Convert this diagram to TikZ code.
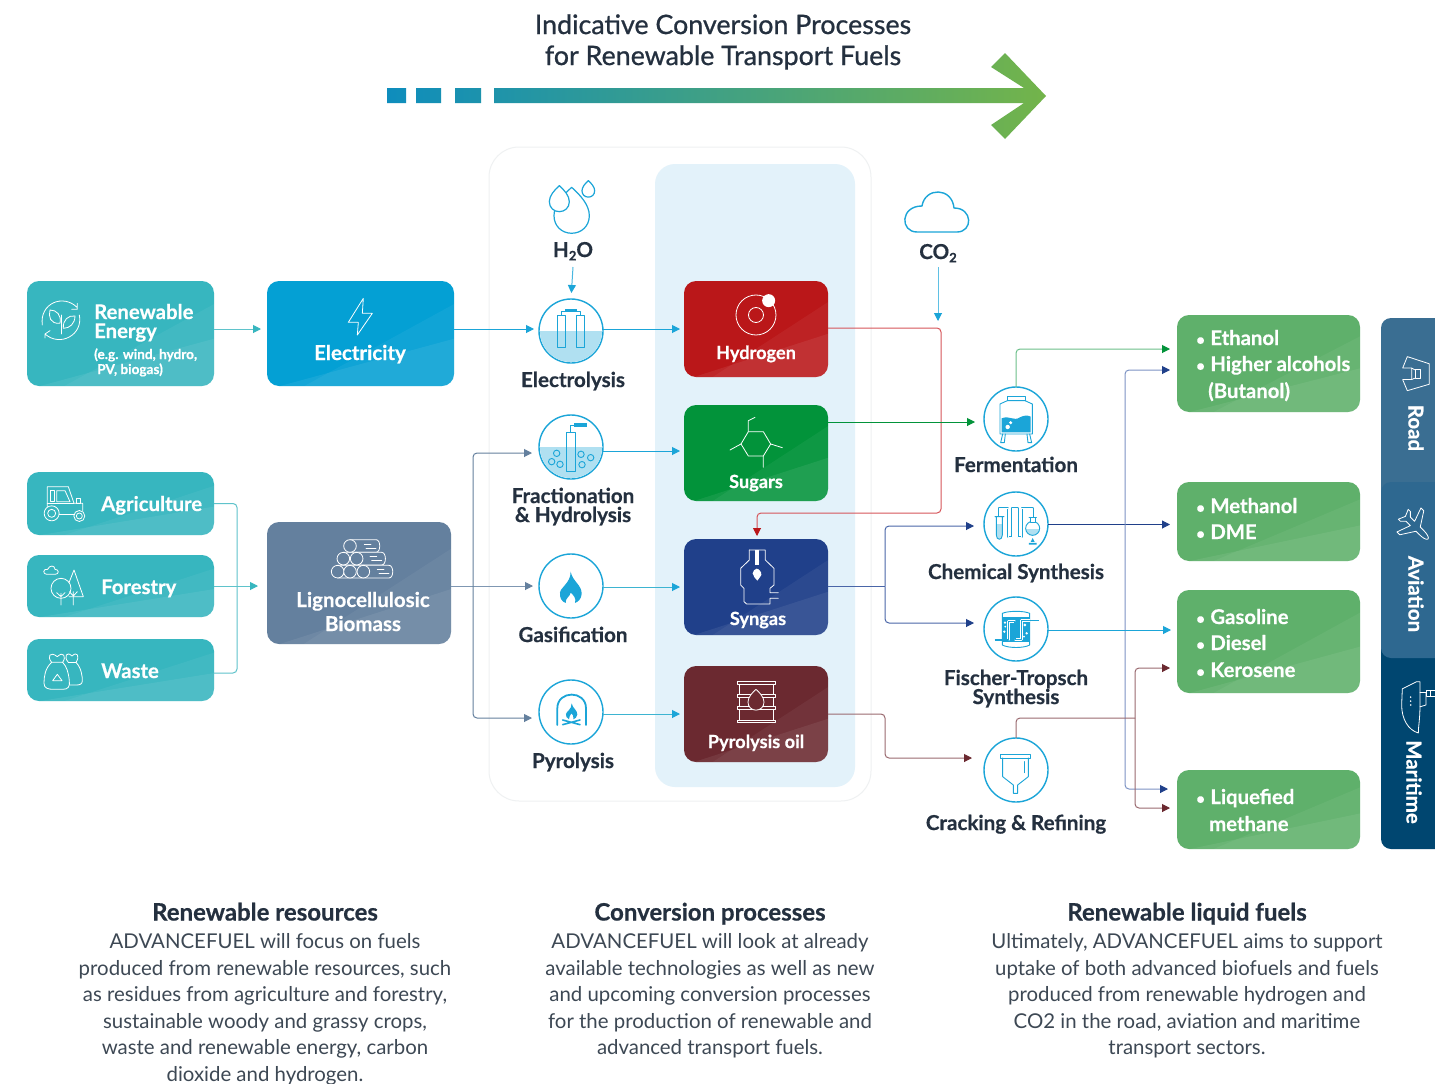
\documentclass[tikz,border=0pt]{standalone}
\usepackage{fontspec}
\setmainfont{Lato}[BoldFeatures={FakeBold=.5}]
\newfontfamily\ttlf{Lato}[UprightFeatures={FakeBold=.8}]
\usetikzlibrary{arrows.meta,calc,shapes.geometric}
\definecolor{teal}{HTML}{37B6BF}
\definecolor{elec}{HTML}{04A0D4}
\definecolor{ligno}{HTML}{64809E}
\definecolor{hyd}{HTML}{BA1719}
\definecolor{sug}{HTML}{02933A}
\definecolor{syn}{HTML}{20408A}
\definecolor{oil}{HTML}{6B2930}
\definecolor{fuel}{HTML}{5FB06B}
\definecolor{inner}{HTML}{E3F2FA}
\definecolor{outerl}{HTML}{EFF1F2}
\definecolor{ink}{HTML}{24303F}
\definecolor{body}{HTML}{3D4854}
\definecolor{cb}{HTML}{1BA5D8}
\definecolor{wat}{HTML}{B0E0F1}
\definecolor{tealL}{HTML}{5FC3CB}
\definecolor{slate}{HTML}{7F97B2}
\definecolor{slateD}{HTML}{64809E}
\definecolor{redL}{HTML}{D6555A}
\definecolor{greenL}{HTML}{6CC08A}
\definecolor{navyL}{HTML}{7D93C4}
\definecolor{navyM}{HTML}{4A66A8}
\definecolor{oilL}{HTML}{9A6A70}
\definecolor{tabmar}{HTML}{004670}
\definecolor{tabroad}{HTML}{3A6E92}
\definecolor{tabavi}{HTML}{2E6890}
\definecolor{arrB}{HTML}{0E8DBD}
\definecolor{arrG}{HTML}{73B44A}
\tikzset{
  x=1pt,y=-1pt,
  box/.style={rectangle,rounded corners=12pt,inner sep=0pt,outer sep=0pt},
  proc/.style={circle,draw=cb,fill=white,line width=1.4pt,minimum size=64pt,inner sep=0pt,outer sep=0pt},
  wlab/.style={text=white,inner sep=0pt,anchor=mid,yshift=-4.5pt,font=\fontsize{18.2}{18.2}\bfseries\selectfont},
  wbig/.style={wlab,font=\fontsize{20.5}{20.5}\bfseries\selectfont},
  wside/.style={text=white,inner sep=0pt,anchor=mid,font=\fontsize{20.5}{20.5}\bfseries\selectfont,rotate=-90},
  wleft/.style={text=white,inner sep=0pt,anchor=mid west,yshift=-4.5pt,font=\fontsize{20.3}{20.3}\bfseries\selectfont},
  wsmall/.style={wleft,yshift=-2pt,font=\fontsize{13.6}{13.6}\bfseries\selectfont},
  plab/.style={text=ink,inner sep=0pt,anchor=mid,yshift=-4.5pt,font=\fontsize{20.6}{20.6}\bfseries\selectfont},
  head/.style={text=ink,inner sep=0pt,anchor=mid,yshift=-5pt,font=\fontsize{24}{24}\bfseries\selectfont},
  ttl/.style={text=ink,inner sep=0pt,anchor=mid,yshift=-6.5pt,font=\fontsize{26.8}{26.8}\ttlf\selectfont},
  para/.style={text=body,inner sep=0pt,align=center,yshift=-2pt,font=\fontsize{20.4}{26.5}\selectfont},
  conn/.style 2 args={draw=#1,line width=1pt,rounded corners=4pt,-{Triangle[length=8pt,width=8pt,color=#2]}},
  line/.style={draw=#1,line width=1pt,rounded corners=4pt},
  ic/.style={draw=white,line width=.8pt,line join=round,line cap=round},
  bl/.style={draw=cb,line width=.9pt,line join=round,line cap=round},
  zm/.style 2 args={x=.33333pt,y=-.33333pt,shift={(#1*3,#2*3)}},
}
\newcommand\bx[6]{%
  \pgfmathsetmacro\bxw{#4-#2}\pgfmathsetmacro\bxh{#5-#3}%
  \pgfmathsetmacro\bxcx{(#2+#4)/2}\pgfmathsetmacro\bxcy{(#3+#5)/2}%
  \node[box,fill=#6,minimum width=\bxw pt,minimum height=\bxh pt] (#1) at (\bxcx,\bxcy) {};
  \begin{scope}
    \clip[rounded corners=12pt] (#1.south west) rectangle (#1.north east);
    \fill[white,opacity=.05] ($(#1.south west)!.2!(#1.south east)$) -- ($(#1.north east)!.22!(#1.south east)$) -- (#1.south east) -- cycle;
    \fill[white,opacity=.07] ($(#1.south west)!.07!(#1.south east)$) -- ($(#1.north east)!.55!(#1.south east)$) -- (#1.south east) -- cycle;
  \end{scope}
}
\newcommand\dropp[5][bl]{% x top r
  \draw[#1,#5] (#2,#3) .. controls ({#2-.5*#4},{#3+.45*#4}) and ({#2-#4},{#3+#4}) .. ({#2-#4},{#3+1.6*#4}) .. controls ({#2-#4},{#3+2.2*#4}) and ({#2-.55*#4},{#3+2.6*#4}) .. (#2,{#3+2.6*#4}) .. controls ({#2+.55*#4},{#3+2.6*#4}) and ({#2+#4},{#3+2.2*#4}) .. ({#2+#4},{#3+1.6*#4}) .. controls ({#2+#4},{#3+#4}) and ({#2+.5*#4},{#3+.45*#4}) .. (#2,#3) -- cycle;
}
\newcommand\subn[1]{\raisebox{-.32ex}{\fontsize{13}{13}\selectfont #1}}
\newcommand\bull{{\fontsize{15}{15}\selectfont•}\hspace{5.5pt}}
\begin{document}
\begin{tikzpicture}
\useasboundingbox (0,0) rectangle (1435,1084);
\fill[white] (0,0) rectangle (1435,1084);

% title and arrow
\node[ttl] (t1) at (723,25) {Indicative Conversion Processes};
\node[ttl] (t2) at (723,56) {for Renewable Transport Fuels};
\shade[left color=arrB,right color=arrG]
  (387,88) rectangle (406,103) (416,88) rectangle (441,103) (455,88) rectangle (481,103)
  (494,88) -- (1024,88) -- (991,67) -- (1005,53) -- (1046,96) -- (1005,139) -- (991,125) -- (1024,103) -- (494,103) -- cycle;

% panels
\node[box,draw=outerl,line width=1pt,rounded corners=30pt,minimum width=382pt,minimum height=654pt] (outerp) at (680,474) {};
\node[box,fill=inner,rounded corners=20pt,minimum width=200pt,minimum height=623pt] (innerp) at (755,475.5) {};

% connector junctions
\coordinate (jL) at (473,586);
\coordinate (jS) at (885,586.5);
\coordinate (jO) at (885,714);
\coordinate (jB) at (1125,524.5);
\coordinate (jC) at (1135,718);

% boxes
\bx{re}{27}{281}{214}{386}{teal}
\bx{elecb}{267}{281}{454}{386}{elec}
\bx{agri}{27}{472}{214}{535}{teal}
\bx{fore}{27}{555}{214}{617}{teal}
\bx{wast}{27}{639}{214}{701}{teal}
\bx{lig}{267}{522}{451}{644}{ligno}
\bx{hydb}{684}{281}{828}{377}{hyd}
\bx{sugb}{684}{405}{828}{501}{sug}
\bx{synb}{684}{539}{828}{635}{syn}
\bx{oilb}{684}{666}{828}{762}{oil}
\bx{eth}{1177}{315}{1360}{412}{fuel}
\bx{meth}{1177}{482}{1360}{561}{fuel}
\bx{gaso}{1177}{590}{1360}{693}{fuel}
\bx{lq}{1177}{770}{1360}{849}{fuel}

% side tabs
\node[box,fill=tabmar,rounded corners=10pt,minimum width=79pt,minimum height=211pt] (mar) at (1420.5,743.5) {};
\node[box,fill=tabroad,rounded corners=10pt,minimum width=79pt,minimum height=182pt] (road) at (1420.5,409) {};
\node[box,fill=tabavi,rounded corners=10pt,minimum width=79pt,minimum height=176pt] (avi) at (1420.5,570) {};

% process circles
\node[proc] (elys) at (571,331) {};
\node[proc] (frac) at (571,447) {};
\node[proc] (gas) at (571,586) {};
\node[proc] (pyr) at (571,712) {};
\node[proc] (ferm) at (1016,419) {};
\node[proc] (chem) at (1016,524) {};
\node[proc] (ft) at (1016,629) {};
\node[proc] (crack) at (1016,770) {};

% water fills
\begin{scope}
  \clip (539,331) rectangle (603,364);
  \fill[wat] (elys.center) circle[radius=31pt];
\end{scope}
\begin{scope}
  \clip (539,447) rectangle (603,480);
  \fill[wat] (frac.center) circle[radius=31pt];
\end{scope}

% labels
\node[plab] (lelys) at (573,380) {Electrolysis};
\node[plab] (lfrac1) at (573,496) {Fractionation};
\node[plab] (lfrac2) at (573,515) {\& Hydrolysis};
\node[plab] (lgas) at (573,635) {Gasification};
\node[plab] (lpyr) at (573,761) {Pyrolysis};
\node[plab] (lferm) at (1016,465) {Fermentation};
\node[plab] (lchem) at (1016,572) {Chemical Synthesis};
\node[plab] (lft1) at (1016,678) {Fischer-Tropsch};
\node[plab] (lft2) at (1016,697) {Synthesis};
\node[plab] (lcrack) at (1016,823) {Cracking \& Refining};
\node[plab] (h2o) at (573,250) {H\subn{2}O};
\node[plab] (co2) at (938,252) {CO\subn{2}};

\node[wleft] (lre1) at (94,312) {Renewable};
\node[wleft] (lre2) at (94,331) {Energy};
\node[wsmall] (lre3) at (94,350) {(e.g. wind, hydro,};
\node[wsmall] (lre4) at (97,365) {PV, biogas)};
\node[wbig] (lelec) at (360,353) {Electricity};
\node[wleft] (lagri) at (101,504) {Agriculture};
\node[wleft] (lfore) at (101,587) {Forestry};
\node[wleft] (lwast) at (101,671) {Waste};
\node[wbig] (llig1) at (363,600) {Lignocellulosic};
\node[wbig] (llig2) at (363,624) {Biomass};
\node[wlab] (lhyd) at (756,352) {Hydrogen};
\node[wlab] (lsug) at (756,481) {Sugars};
\node[wlab] (lsyn) at (758,618) {Syngas};
\node[wlab] (loil) at (756,741) {Pyrolysis oil};

\node[wleft] (f1) at (1196,338) {\bull Ethanol};
\node[wleft] (f2) at (1196,364) {\bull Higher alcohols};
\node[wleft] (f3) at (1208,391) {(Butanol)};
\node[wleft] (f4) at (1196,506) {\bull Methanol};
\node[wleft] (f5) at (1196,532) {\bull DME};
\node[wleft] (f6) at (1196,617) {\bull Gasoline};
\node[wleft] (f7) at (1196,643) {\bull Diesel};
\node[wleft] (f8) at (1196,670) {\bull Kerosene};
\node[wleft] (f9) at (1196,797) {\bull Liquefied};
\node[wleft] (f10) at (1209,824) {methane};

\node[wside] (lroad) at (1411,428) {Road};
\node[wside] (lavi) at (1411,594) {Aviation};
\node[wside] (lmar) at (1409,782) {Maritime};

% connectors
\draw[conn={tealL}{teal},shorten >=6pt] (re.east |- 0,329) -- (elecb.west |- 0,329);
\draw[conn={tealL}{teal},shorten >=9pt] (fore.east) -- (lig.west |- fore.east);
\draw[line=tealL] (agri.east |- 0,503.5) -- (237,503.5) -- (237,673) -- (wast.east |- 0,673);
\draw[conn={cb}{cb},shorten >=5pt] (elecb.east |- 0,329) -- (elys.west |- 0,329);
\draw[conn={cb}{cb},shorten >=4pt] (elys.east |- 0,329) -- (hydb.west |- 0,329);
\draw[conn={cb}{cb},shorten >=4pt] (frac.east |- 0,451) -- (sugb.west |- 0,451);
\draw[conn={tealL!50!cb}{cb},shorten >=4pt] (gas.east |- 0,587) -- (synb.west |- 0,587);
\draw[conn={tealL!50!cb}{cb},shorten >=4pt] (pyr.east |- 0,714) -- (oilb.west |- 0,714);
\draw[conn={cb!80!white}{cb},shorten >=6pt] (h2o |- 0,267) -- (elys.north);
\draw[conn={cb!70!white}{cb}] (co2 |- 0,267) -- (938,321);
\draw[conn={slate}{slateD},shorten >=6pt] (lig.east |- jL) -- (gas.west |- jL);
\draw[conn={slateD}{slateD},shorten >=7pt] (jL) |- (frac.west |- 0,453);
\draw[conn={slateD}{slateD},shorten >=7pt] (jL) |- (pyr.west |- 0,718);
\draw[conn={redL}{hyd},shorten >=3pt] (hydb.east |- 0,328) -- (941,328) -- (941,513) -- (757,513) -- (757,539);
\draw[conn={sug}{sug},shorten >=9pt] (sugb.east |- 0,422) -- (ferm.west |- 0,422);
\draw[line=navyM] (synb.east |- jS) -- (jS);
\draw[conn={navyM}{syn},shorten >=10pt] (jS) |- (chem.west |- 0,526);
\draw[conn={navyM}{syn},shorten >=10pt] (jS) |- (ft.west |- 0,623);
\draw[conn={oilL}{oil},shorten >=12pt] (oilb.east |- jO) -- (jO) -- (885,758) -- (crack.west |- 0,758);
\draw[conn={greenL}{sug},shorten >=7pt] (ferm.north) -- (1016,349) -- (eth.west |- 0,349);
\draw[conn={syn}{syn},shorten >=7pt] (chem.east |- jB) -- (meth.west |- jB);
\draw[conn={navyL}{syn},shorten >=7pt] (jB) |- (eth.west |- 0,370);
\draw[conn={navyL}{syn},shorten >=9pt] (jB) |- (lq.west |- 0,789);
\draw[conn={cb}{cb},shorten >=6pt] (ft.east |- 0,630) -- (gaso.west |- 0,630);
\draw[line=oilL] (crack.north) -- (1016,718) -- (jC);
\draw[conn={oilL}{oil},shorten >=7pt] (jC) |- (gaso.west |- 0,668);
\draw[conn={oilL}{oil},shorten >=7pt] (jC) |- (lq.west |- 0,808);

% CO2 cloud
\draw[draw=cb,line width=1.4pt,line join=round] (917,232) -- (957,232) .. controls (973,232) and (973,208) .. (954,208) .. controls (952,187) and (925,187) .. (922,206) .. controls (900,206) and (900,232) .. (917,232) -- cycle;

% ---------- icons, zoom 1 coordinates
\begin{scope}[zm={0}{260}]
  % renewable
  \draw[ic] (127,195) .. controls (118,130) and (190,100) .. (232,143) (232,130) -- (232,148) -- (215,148);
  \draw[ic] (238,165) .. controls (250,225) and (180,262) .. (135,222) (150,212) -- (135,222) -- (135,234);
  \draw[ic] (183,222) -- (183,165);
  \draw[ic] (180,190) .. controls (150,192) and (145,170) .. (150,150) .. controls (170,150) and (185,165) .. (180,190);
  \draw[ic] (190,205) .. controls (188,180) and (205,165) .. (225,168) .. controls (225,190) and (210,205) .. (190,205);
  % lightning
  \draw[ic] (1090,115) -- (1045,187) -- (1075,187) -- (1072,225) -- (1117,160) -- (1087,160) -- cycle;
  % tractor
  \draw[ic] (142,740) -- (142,680) -- (205,680) -- (222,730) -- (248,730) -- (248,752);
  \draw[ic] (152,690) rectangle (164,725);
  \draw[ic] (170,692) -- (195,692) -- (210,725) -- (170,725) -- cycle;
  \draw[ic] (142,730) -- (222,730);
  \draw[ic] (155,760) circle[radius=7.5pt] (155,760) circle[radius=4pt];
  \draw[ic] (238,768) circle[radius=5.5pt] (238,768) circle[radius=3pt];
  \draw[ic] (178,762) -- (222,762);
  \draw[ic] (230,715) rectangle (242,730);
  % forestry
  \draw[ic] (140,943) .. controls (128,943) and (128,925) .. (143,928) .. controls (148,915) and (165,915) .. (165,928) .. controls (178,928) and (178,943) .. (165,943) -- cycle;
  \draw[ic] (183,985) circle[radius=10pt];
  \draw[ic] (183,1035) -- (183,1000) (170,998) -- (183,1010) -- (195,998);
  \draw[ic] (207,968) -- (222,930) -- (250,1010) -- (207,1010);
  \draw[ic] (220,1035) -- (220,995) (208,995) -- (220,1008) -- (232,995);
  % waste
  \draw[ic] (155,1207) .. controls (135,1225) and (132,1250) .. (132,1270) .. controls (132,1285) and (145,1288) .. (160,1288) -- (188,1288) .. controls (205,1288) and (210,1280) .. (208,1262) .. controls (205,1235) and (200,1220) .. (188,1207) -- cycle;
  \draw[ic] (155,1207) .. controls (140,1190) and (150,1172) .. (172,1190) .. controls (190,1172) and (200,1190) .. (188,1207);
  \draw[ic] (205,1207) .. controls (190,1190) and (200,1172) .. (216,1188) .. controls (232,1172) and (240,1190) .. (228,1207) .. controls (245,1225) and (247,1250) .. (247,1262) .. controls (247,1272) and (240,1275) .. (230,1275) -- (209,1275);
  \draw[ic] (205,1207) -- (228,1207);
  \draw[ic] (158,1262) -- (172,1243) -- (186,1262) -- cycle;
  % logs
  \foreach \cx/\cy/\e in {1050/858/1143, 1030/896/1160, 1013/935/1182}{
    \draw[ic,fill=ligno] (\cx,\cy-19) -- (\e-15,\cy-19) .. controls (\e,\cy-19) and (\e,\cy+19) .. (\e-15,\cy+19) -- (\cx,\cy+19);
    \draw[ic] (\e-50,\cy-6) -- (\e-30,\cy-6) (\e-45,\cy+6) -- (\e-15,\cy+6);
  }
  \foreach \cx/\cy in {1050/858, 1030/896, 1070/896, 1013/935, 1050/935, 1090/935}{
    \draw[ic,fill=ligno] (\cx,\cy) circle[radius=6.3pt];
  }
\end{scope}

% ---------- zoom 2 coordinates
\begin{scope}[zm={480}{150}]
  % droplets
  \dropp{275}{112}{53}{fill=white,line width=1.2pt}
  \dropp{238}{107}{30}{fill=white,line width=1.2pt}
  \dropp{325}{92}{19}{fill=white,line width=1.2pt}
  % electrolysis
  \draw[bl] (233,495) rectangle (257,592);
  \draw[bl] (290,495) rectangle (314,592);
  \draw[bl] (245,495) -- (245,484) -- (302,484) -- (302,495);
  \fill[cb] (255,478) rectangle (292,485);
  % fractionation
  \draw[bl] (259,847) rectangle (287,963);
  \draw[bl] (270,847) -- (270,827) -- (281,827);
  \fill[cb] (281,820) rectangle (322,830);
  \foreach \a/\b in {230/910,215/935,240/943,303/913,332/923,306/944}{
    \draw[bl] (\a,\b) circle[radius=3.2pt];
  }
  % hydrogen
  \draw[ic] (828,495) circle[radius=20pt];
  \draw[ic] (828,495) circle[radius=7.5pt];
  \fill[white] (866,452) circle[radius=6.5pt];
  % sugars
  \draw[ic] (805,845) -- (850,845) -- (872,882) -- (850,918) -- (805,918) -- (783,882) -- cycle;
  \draw[ic] (805,845) -- (805,812) -- (825,802) (872,882) -- (907,893) (783,882) -- (750,900) (850,918) -- (850,952);
\end{scope}

% ---------- zoom 3 coordinates
\begin{scope}[zm={480}{490}]
  % flame
  \fill[cb] (272,245) .. controls (278,275) and (306,285) .. (305,312) .. controls (304,328) and (293,336) .. (285,339) .. controls (290,325) and (280,315) .. (272,308) .. controls (270,320) and (255,325) .. (257,339) .. controls (245,335) and (238,322) .. (240,308) .. controls (242,295) and (250,295) .. (255,285) .. controls (263,275) and (272,265) .. (272,245) -- cycle;
  % pyrolysis
  \draw[bl,line width=1.8pt] (232,705) -- (232,655) .. controls (232,600) and (318,600) .. (318,655) -- (318,705);
  \fill[cb] (275,640) .. controls (278,655) and (292,660) .. (292,673) .. controls (292,682) and (285,686) .. (280,688) .. controls (283,680) and (278,673) .. (274,670) .. controls (272,678) and (265,680) .. (267,688) .. controls (260,685) and (257,678) .. (258,672) .. controls (260,662) and (275,660) .. (275,640) -- cycle;
  \draw[bl,line width=1.6pt] (248,690) -- (300,704) (248,704) -- (300,690);
  % syngas
  \draw[ic] (808,180) -- (808,210) -- (782,235) -- (782,285) -- (792,295) -- (792,335) -- (800,342) -- (870,342) -- (870,325) -- (895,325);
  \draw[ic] (895,308) -- (870,308) -- (870,295) -- (882,285) -- (882,235) -- (856,210) -- (856,180) -- (808,180);
  \fill[white] (825,180) rectangle (838,225);
  \fill[white] (830,236) .. controls (835,236) and (846,245) .. (844,255) .. controls (842,262) and (835,265) .. (832,272) .. controls (828,265) and (818,260) .. (818,250) .. controls (818,242) and (825,238) .. (830,236) -- cycle;
  % barrel
  \draw[ic] (771,575) rectangle (887,583) (771,612) rectangle (887,622) (771,650) rectangle (887,658) (771,690) rectangle (887,697);
  \draw[ic] (778,583) -- (778,612) (778,622) -- (778,650) (778,658) -- (778,690) (880,583) -- (880,612) (880,622) -- (880,650) (880,658) -- (880,690);
  \dropp[ic]{828}{598}{24}{fill=oil}
\end{scope}

% ---------- zoom 4 coordinates
\begin{scope}[zm={880}{300}]
  % fermentation
  \draw[bl] (360,312) -- (382,302) -- (435,302) -- (457,312) -- (457,402) -- (360,402) -- cycle;
  \draw[bl] (382,302) -- (382,290) -- (435,290) -- (435,302);
  \fill[cb] (365,355) .. controls (390,345) and (400,365) .. (420,352) .. controls (430,346) and (445,345) .. (452,350) -- (452,397) -- (365,397) -- cycle;
  \draw[bl] (368,402) -- (362,428) -- (373,428) -- (376,402) (449,402) -- (455,428) -- (444,428) -- (441,402);
  \fill[white] (392,368) circle[radius=1.7pt] (383,381) circle[radius=2.2pt];
  % chemical
  \draw[cb,line width=2.2pt,line join=round] (358,650) -- (358,625) -- (385,625) -- (385,712) -- (397,712) -- (397,625) -- (413,625) -- (413,712) -- (425,712) -- (425,625) -- (458,625) -- (458,650);
  \draw[white,line width=.8pt,line join=round] (358,650) -- (358,625) -- (385,625) -- (385,712) -- (397,712) -- (397,625) -- (413,625) -- (413,712) -- (425,712) -- (425,625) -- (458,625) -- (458,650);
  \begin{scope}
    \clip (340,675) rectangle (375,720);
    \fill[wat] (349,650) -- (349,705) .. controls (349,722) and (367,722) .. (367,705) -- (367,650) -- cycle;
  \end{scope}
  \draw[bl] (345,650) -- (372,650) (349,650) -- (349,705) .. controls (349,722) and (367,722) .. (367,705) -- (367,650);
  \begin{scope}
    \clip (430,688) rectangle (490,720);
    \fill[wat] (458,685) circle[radius=7pt];
  \end{scope}
  \draw[bl] (458,685) circle[radius=7pt];
  \draw[bl,fill=white] (451,652) rectangle (465,666);
  \draw[bl] (447,652) -- (469,652);
  \fill[cb] (458,714) -- (464,726) -- (452,726) -- cycle (447,729) rectangle (470,734);
\end{scope}

% ---------- zoom 5 coordinates
\begin{scope}[zm={880}{580}]
  % Fischer-Tropsch
  \draw[bl] (367,100) .. controls (385,92) and (432,92) .. (449,100) -- (449,195) .. controls (432,205) and (385,205) .. (367,195) -- cycle;
  \fill[cb] (370,110) rectangle (446,187);
  \draw[white,line width=2.4pt,line join=round] (370,180) -- (385,180) -- (385,125) -- (405,125) -- (405,178) -- (425,178) -- (425,122) -- (449,122);
  \draw[cb,line width=1.4pt,line join=round] (344,180) -- (385,180) -- (385,125) -- (405,125) -- (405,178) -- (425,178) -- (425,122) -- (476,122);
  \fill[white] (375,128) circle[radius=1.3pt] (373,155) circle[radius=1.3pt] (435,135) circle[radius=1.5pt] (440,160) circle[radius=1.3pt] (432,170) circle[radius=1pt] (376,140) circle[radius=1pt];
  % funnel
  \draw[bl] (362,524) rectangle (450,534);
  \draw[bl] (368,534) -- (368,590) -- (400,615) -- (400,640) -- (413,640) -- (413,615) -- (445,590) -- (445,534);
  \draw[bl] (433,545) -- (433,578);
\end{scope}

% ---------- side tab icons
\begin{scope}[x=.33333pt,y=-.35842pt,shift={(1170*3,300*2.79)}]
  \draw[ic] (698,190) -- (712,158) -- (778,178) -- (778,235) -- (712,253) -- (698,222) -- (725,222) -- (725,190) -- cycle;
  \draw[ic] (735,195) rectangle (750,218);
  \draw[ic] (725,190) -- (735,195) (725,222) -- (735,218);
  % ship
  \draw[ic] (697,1085) -- (740,1065) -- (750,1065) -- (750,1130) .. controls (750,1170) and (745,1190) .. (745,1208) .. controls (715,1200) and (695,1170) .. (695,1130) -- cycle;
  \draw[ic] (750,1095) -- (768,1095) -- (768,1130) -- (750,1135);
  \draw[ic] (768,1090) rectangle (782,1105) (782,1090) rectangle (800,1105);
  \fill[white] (722,1108) circle[radius=.9pt] (722,1119) circle[radius=.9pt] (722,1130) circle[radius=.9pt];
\end{scope}
\begin{scope}[shift={(1416,527)},rotate=-135]
  \draw[ic] (0,-17) .. controls (2,-17) and (3,-12) .. (3,-8) -- (3,-3) -- (17,6) -- (17,10) -- (3,5) -- (3,11) -- (7,15) -- (7,18) -- (0,15) -- (-7,18) -- (-7,15) -- (-3,11) -- (-3,5) -- (-17,10) -- (-17,6) -- (-3,-3) -- (-3,-8) .. controls (-3,-12) and (-2,-17) .. (0,-17) -- cycle;
\end{scope}

% bottom text
\node[head] (h1) at (265,913) {Renewable resources};
\node[head] (h2) at (710,913) {Conversion processes};
\node[head] (h3) at (1187,913) {Renewable liquid fuels};
\node[para] (p1) at (265,1007.5) {ADVANCEFUEL will focus on fuels\\produced from renewable resources, such\\as residues from agriculture and forestry,\\sustainable woody and grassy crops,\\waste and renewable energy, carbon\\dioxide and hydrogen.};
\node[para] (p2) at (710,994) {ADVANCEFUEL will look at already\\available technologies as well as new\\and upcoming conversion processes\\for the production of renewable and\\advanced transport fuels.};
\node[para] (p3) at (1187,994) {Ultimately, ADVANCEFUEL aims to support\\uptake of both advanced biofuels and fuels\\produced from renewable hydrogen and\\CO2 in the road, aviation and maritime\\transport sectors.};
\end{tikzpicture}
\end{document}
